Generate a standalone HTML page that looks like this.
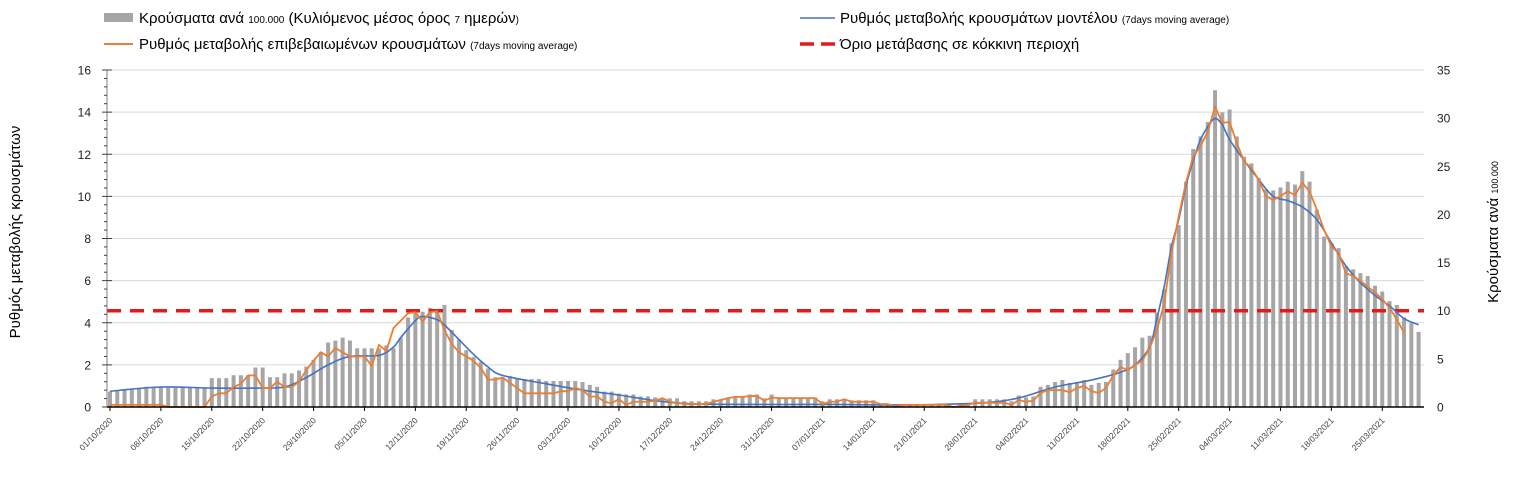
<!DOCTYPE html>
<html><head><meta charset="utf-8">
<style>
body{margin:0;background:#fff;width:1515px;height:488px;overflow:hidden;font-family:"Liberation Sans Narrow","Liberation Sans",sans-serif;}
svg{display:block}
</style></head>
<body>
<svg id="chart" width="1515" height="488" viewBox="0 0 1515 488" xmlns="http://www.w3.org/2000/svg">
  <g id="grid"></g>
  <g id="bars"></g>
  <g id="lines"></g>
  <g id="axes"></g>
  <g font-family="Liberation Sans Narrow, Liberation Sans, sans-serif">
    <g>
      <rect x="104" y="13" width="29" height="9" fill="#a6a6a6"/>
      <text x="139" y="23" font-size="15" fill="#000">Κρούσματα ανά <tspan font-size="10">100.000</tspan> (Κυλιόμενος μέσος όρος <tspan font-size="10">7</tspan> ημερών<tspan font-size="10">)</tspan></text>
    </g>
    <g>
      <line x1="104" y1="44" x2="133" y2="44" stroke="#ed7d31" stroke-width="2"/>
      <text x="139" y="49" font-size="15" fill="#000">Ρυθμός μεταβολής επιβεβαιωμένων κρουσμάτων <tspan font-size="10">(7days moving average)</tspan></text>
    </g>
    <g>
      <line x1="800" y1="18" x2="835" y2="18" stroke="#4472c4" stroke-width="1.5"/>
      <text x="840" y="23" font-size="15" fill="#000">Ρυθμός μεταβολής κρουσμάτων μοντέλου <tspan font-size="10">(7days moving average)</tspan></text>
    </g>
    <g>
      <line x1="800" y1="44" x2="835" y2="44" stroke="#e31a1c" stroke-width="3.5" stroke-dasharray="14,7"/>
      <text x="840" y="49" font-size="15" fill="#000">Όριο μετάβασης σε κόκκινη περιοχή</text>
    </g>
  </g>
  <text transform="translate(20,232) rotate(-90)" text-anchor="middle" font-size="15" fill="#000">Ρυθμός μεταβολής κρουσμάτων</text>
  <text transform="translate(1498,232) rotate(-90)" text-anchor="middle" font-size="15" fill="#000">Κρούσματα ανά <tspan font-size="9">100.000</tspan></text>
</svg>
<script>
// ---- data ----
const startDate = [2020, 9, 1]; // 01/10/2020 (month index 9)
const barValues = [
1.6,1.7,1.8,1.9,2.0,2.1,2.1,2.1,2.0,2.0,2.0,2.0,2.0,2.0,
3.0,3.0,3.0,3.3,3.3,3.3,4.1,4.1,3.1,3.1,3.5,3.5,3.8,4.2,4.9,5.7,6.7,6.9,7.2,6.9,6.1,6.1,6.1,6.1,6.4,6.1,7.2,9.3,9.9,9.9,10.3,10.0,10.6,8.0,7.0,5.9,5.2,4.7,4.0,3.1,
3.1,3.2,2.9,2.9,2.9,2.9,2.7,2.7,2.7,2.7,
2.7,2.6,2.3,2.1,1.6,1.6,1.4,1.3,1.3,1.1,
1.1,1.0,0.9,0.9,0.9,0.6,0.6,0.6,0.6,0.8,
0.8,1.0,1.0,1.0,1.3,1.3,0.9,1.3,1.0,1.0,
1.0,1.0,1.0,1.0,0.6,0.8,0.8,0.8,0.7,0.7,
0.7,0.7,0.3,0.3,0.1,0.3,0.3,0.3,0.3,0.3,
0.3,0.3,0.1,0.4,0.4,0.8,0.8,0.8,0.8,0.8,
0.6,
1.2,1.0,1.1,2.1,2.3,2.6,2.8,2.5,2.6,2.8,2.3,2.5,2.6,3.9,4.9,5.6,6.2,7.2,7.4,9.8,12.2,
17.0,18.9,23.4,26.8,28.1,29.6,32.9,30.6,30.9,28.1,26.0,25.3,23.8,22.6,22.5,22.8,23.4,23.1,24.5,23.4,20.5,17.7,17.0,16.5,14.6,14.3,13.9,13.6,12.6,12.0,11.0,10.6,9.3,8.7,7.8
];
const orangeValues = [
0.1,0.1,0.1,0.1,0.1,0.1,0.1,0.1,0,0,0,0,0,0,
0.5,0.65,0.65,0.95,1.1,1.5,1.5,0.9,0.9,1.2,0.95,0.95,1.2,1.75,2.2,2.6,2.4,2.8,2.6,2.4,2.4,2.4,1.95,2.95,2.65,3.75,4.1,4.45,4.5,4.05,4.5,4.55,3.65,3.0,2.6,2.4,2.2,1.85,1.3,1.3,1.4,1.15,0.9,
0.65,0.65,0.65,0.65,0.65,0.75,0.75,0.9,0.8,0.5,
0.5,0.25,0.18,0.37,0.1,0.25,0.25,0.25,0.3,0.42,
0.25,0.2,0.14,0.14,0.14,0.14,0.25,0.33,0.42,0.48,
0.48,0.52,0.52,0.3,0.45,0.42,0.42,0.42,0.42,0.42,0.42,
0.14,0.25,0.25,0.37,0.25,0.25,0.25,0.25,0.14,0.14,0,
0.1,0.1,0.1,0.1,0.1,0.1,0.1,0,0.05,0.1,0.2,0.2,0.2,0.2,0.2,0.1,
0.33,0.25,0.3,0.67,0.8,0.8,0.8,0.7,0.9,1.0,0.75,0.67,0.9,1.5,1.9,1.75,2.0,2.2,2.8,3.65,4.9,
7.31,9.05,10.65,11.89,12.39,13.07,14.26,13.49,13.53,12.53,11.66,11.34,10.79,10.01,9.83,10.01,10.24,10.06,10.65,10.24,9.37,8.41,7.63,7.31,6.35,6.22,5.99,5.71,5.44,5.12,4.71,4.16,3.52
];
const blueDays = [0,7,14,20,24,27,30,33,37,39,40,42,43,45,46,48,50,52,54,60,65,70,75,80,90,100,110,120,125,130,135,139,141,143,144,145,146,147,148,149,150,151,152,153,154,156,158,160,162,164,166,168,170,172,174,176,178,180];
const blueValues = [0.75,0.95,0.9,0.9,0.95,1.4,2.0,2.4,2.45,2.85,3.3,4.1,4.3,4.15,3.9,3.2,2.5,1.9,1.5,1.1,0.8,0.57,0.3,0.15,0.12,0.12,0.1,0.2,0.43,0.95,1.28,1.65,2.0,2.85,4.2,5.7,7.6,8.9,10.5,11.7,12.7,13.3,13.7,13.4,12.7,11.7,10.8,10.0,9.8,9.5,8.9,7.8,6.7,5.9,5.3,4.8,4.2,3.9];
const redThreshold = 10; // right axis units
const leftTicks = [0,2,4,6,8,10,12,14,16];
const rightTicks = [0,5,10,15,20,25,30,35];
const xTickDays = [0,7,14,21,28,35,42,49,56,63,70,77,84,91,98,105,112,119,126,133,140,147,154,161,168,175];

// ---- scales ----
const X0 = 110, DX = 7.27, Y0 = 407, YTOP = 70;
const xS = d => X0 + d * DX;
const yL = v => Y0 - v * (Y0 - YTOP) / 16;
const yR = v => Y0 - v * (Y0 - YTOP) / 35;
const NS = "http://www.w3.org/2000/svg";
function mk(tag, attrs, parent){const e=document.createElementNS(NS,tag);for(const k in attrs)e.setAttribute(k,attrs[k]);parent.appendChild(e);return e;}
const grid = document.getElementById('grid'), barsG = document.getElementById('bars'), linesG = document.getElementById('lines'), axes = document.getElementById('axes');
const PL = 107, PR = 1424;

leftTicks.forEach(v => { if (v>0){
  const g = mk('line',{x1:PL,x2:PR,y1:yL(v),y2:yL(v),stroke:'#d9d9d9','stroke-width':1},grid);
  
  
}});

barValues.forEach((v,i) => {
  const r = mk('rect',{x:xS(i)-2,y:yR(v),width:4,height:Y0-yR(v),fill:'#a6a6a6'},barsG);
  
  
});

const red = mk('line',{x1:PL,x2:PR,y1:yR(redThreshold),y2:yR(redThreshold),stroke:'#e31a1c','stroke-width':3.5,'stroke-dasharray':'14,9'},linesG);



function smooth(pts){let d='M'+pts[0][0]+','+pts[0][1];for(let i=0;i<pts.length-1;i++){const p0=pts[Math.max(0,i-1)],p1=pts[i],p2=pts[i+1],p3=pts[Math.min(pts.length-1,i+2)];const c1=[p1[0]+(p2[0]-p0[0])/6,p1[1]+(p2[1]-p0[1])/6],c2=[p2[0]-(p3[0]-p1[0])/6,p2[1]-(p3[1]-p1[1])/6];d+=' C'+c1.join(',')+' '+c2.join(',')+' '+p2.join(',');}return d;}
const bp = blueDays.map((d,i)=>[xS(d),yL(blueValues[i])]);
const blue = mk('path',{d:smooth(bp),fill:'none',stroke:'#4472c4','stroke-width':1.6},linesG);



const op = orangeValues.map((v,i)=>xS(i)+','+yL(v)).join(' ');
const orange = mk('polyline',{points:op,fill:'none',stroke:'#ed7d31','stroke-width':1.8,'stroke-linejoin':'round'},linesG);



const la = mk('line',{x1:PL,x2:PL,y1:YTOP,y2:Y0,stroke:'#7f7f7f','stroke-width':1},axes);


for(let v=0;v<=16.001;v+=0.4){const major=Math.abs(v/2-Math.round(v/2))<0.01;mk('line',{x1:major?PL-5:PL-3,x2:major?PL+5:PL,y1:yL(v),y2:yL(v),stroke:'#404040','stroke-width':1},axes);}
const xa = mk('line',{x1:PL,x2:PR,y1:Y0,y2:Y0,stroke:'#000','stroke-width':1.5},axes);


leftTicks.forEach(v=>{const t=mk('text',{x:91,y:yL(v)+4.5,'text-anchor':'end','font-size':12,fill:'#222'},axes);t.textContent=v;

});
rightTicks.forEach(v=>{const t=mk('text',{x:1437,y:yR(v)+4.5,'text-anchor':'start','font-size':12,fill:'#222'},axes);t.textContent=v;

});
const pad=n=>(n<10?'0':'')+n;
xTickDays.forEach(d=>{
  const dt=new Date(startDate[0],startDate[1],startDate[2]+d);
  const lbl=pad(dt.getDate())+'/'+pad(dt.getMonth()+1)+'/'+dt.getFullYear();
  mk('line',{x1:xS(d),x2:xS(d),y1:Y0,y2:Y0+4,stroke:'#000','stroke-width':1},axes);
  const t=mk('text',{transform:'translate('+(xS(d)+3)+','+(Y0+14)+') rotate(-45)','text-anchor':'end','font-size':8.5,fill:'#444'},axes);
  t.textContent=lbl;
  
  
});
</script>
</body></html>
